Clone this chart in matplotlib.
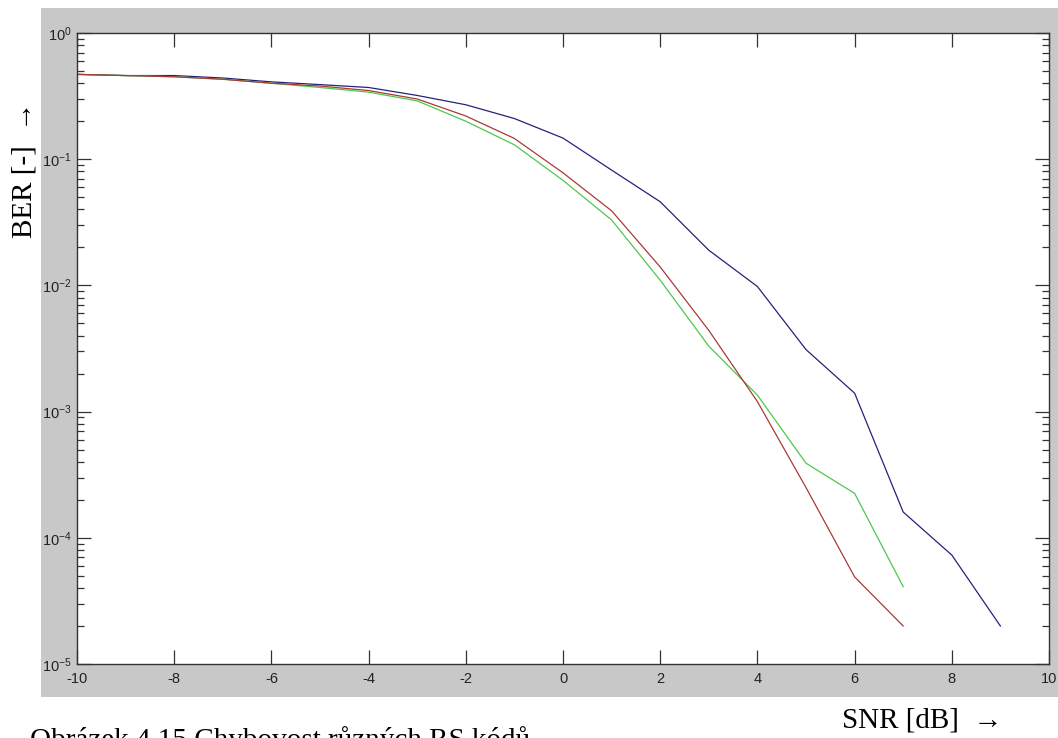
import numpy as np
import matplotlib.pyplot as plt
from matplotlib.patches import Rectangle
from matplotlib.ticker import LogLocator, FixedLocator

plt.rcParams['axes.unicode_minus'] = False

# SNR values in dB
snr_blue = [-10, -9, -8, -7, -6, -5, -4, -3, -2, -1, 0, 1, 2, 3, 4, 5, 6, 7, 8, 9]
ber_blue = [0.47, 0.46, 0.46, 0.44, 0.41, 0.39, 0.37, 0.32, 0.27, 0.21, 0.147,
            0.082, 0.046, 0.019, 0.0098, 0.0031, 0.0014, 1.6e-4, 7.3e-5, 2.0e-5]

snr_red = [-10, -9, -8, -7, -6, -5, -4, -3, -2, -1, 0, 1, 2, 3, 4, 5, 6, 7]
ber_red = [0.47, 0.46, 0.45, 0.43, 0.40, 0.38, 0.35, 0.30, 0.22, 0.146, 0.078,
           0.039, 0.014, 0.0044, 0.0012, 2.5e-4, 4.9e-5, 2.0e-5]

snr_green = [-10, -9, -8, -7, -6, -5, -4, -3, -2, -1, 0, 1, 2, 3, 4, 5, 6, 7]
ber_green = [0.47, 0.46, 0.45, 0.43, 0.40, 0.37, 0.34, 0.29, 0.20, 0.13, 0.068,
             0.033, 0.011, 0.0033, 0.00135, 3.9e-4, 2.25e-4, 4.1e-5]

x_ticks = [-10, -8, -6, -4, -2, 0, 2, 4, 6, 8, 10]

W, H = 1058, 738
fig = plt.figure(figsize=(W / 100, H / 100), dpi=100)

#__________________________________________________________
# grey matlab-like window behind the axes
bg = Rectangle((41 / W, 1 - 697 / H), 1 - 41 / W, (697 - 8) / H,
               transform=fig.transFigure, facecolor="#c8c8c8",
               edgecolor="none", zorder=-10)
fig.patches.append(bg)

ax = fig.add_axes([77 / W, 1 - 664 / H, (1049 - 77) / W, (664 - 33) / H])
ax.set_zorder(5)
ax.set_facecolor("white")

ax.plot(snr_blue, ber_blue, color="#23237a", lw=0.9)
ax.plot(snr_green, ber_green, color="#4cc84c", lw=0.9)
ax.plot(snr_red, ber_red, color="#a83a3a", lw=0.9)

ax.set_yscale("log")
ax.set_xlim(-10, 10)
ax.set_ylim(1e-5, 1)
ax.xaxis.set_major_locator(FixedLocator(x_ticks))
ax.yaxis.set_major_locator(LogLocator(base=10, numticks=10))
ax.yaxis.set_minor_locator(LogLocator(base=10, subs=np.arange(2, 10), numticks=10))
ax.yaxis.set_minor_formatter(plt.NullFormatter())

ax.tick_params(which="both", direction="in", top=True, right=True,
               color="#333333", labelsize=10.5, labelcolor="#222222")
ax.tick_params(which="major", length=10, width=0.9)
ax.tick_params(which="minor", length=5, width=0.9)
ax.tick_params(axis="x", pad=6)
ax.tick_params(axis="y", pad=4)
for lab in ax.get_xticklabels() + ax.get_yticklabels():
    lab.set_family("Liberation Sans")
for s in ax.spines.values():
    s.set_color("#333333")
    s.set_linewidth(1.0)

#__________________________________________________________
# labels and caption in a serif font, like the document
fig.text(25 / W, 1 - 170 / H, "BER [-]  \u2192", rotation=90, ha="center",
         va="center", family="Liberation Serif", fontsize=21)
fig.text(922 / W, 1 - 720 / H, "SNR [dB]  \u2192", ha="center", va="center",
         family="Liberation Serif", fontsize=21)
# caption is cut by the bottom edge of the picture, as in the reference
fig.text(30 / W, 1 - 726 / H, "Obrázek 4.15 Chybovost různých RS kódů",
         ha="left", va="top", family="Liberation Serif", fontsize=21)

fig.savefig("out.png", dpi=100)
